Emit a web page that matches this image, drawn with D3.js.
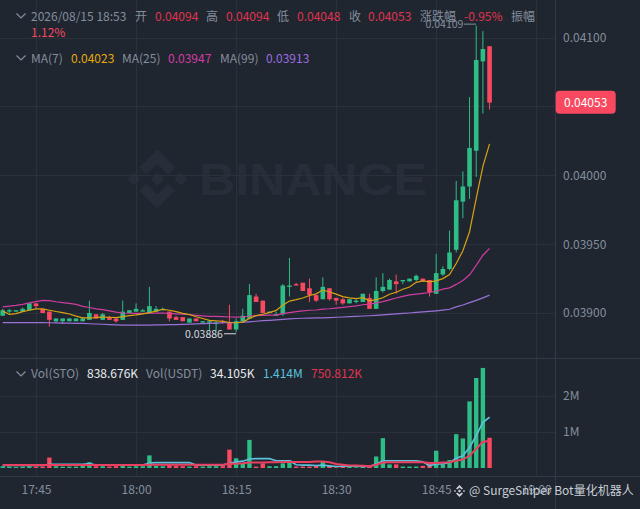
<!DOCTYPE html>
<html><head><meta charset="utf-8">
<script src="https://cdn.jsdelivr.net/npm/d3@7/dist/d3.min.js"></script>
<style>
html,body{margin:0;padding:0;background:#1f2630;overflow:hidden}
svg{display:block}
text{font-family:"Noto Sans CJK SC","Noto Sans",sans-serif}
.domain{display:none}
</style></head><body><svg id="c" width="640" height="509"></svg>
<script>
// prices are in units of 0.00001
const open=[3898,3901,3901,3901,3902,3907,3903,3901,3894,3894,3894,3894,3894,3895,3899,3895,3897,3896,3895,3900,3901,3901,3900,3901,3902,3901,3897,3897,3893,3896,3893,3893,3892,3894,3893,3888,3894,3896,3912,3909,3900,3898,3899,3919,3921,3922,3918,3913,3910,3918,3911,3910,3907,3908,3908,3911,3903,3916,3917,3923,3923,3923,3924,3925,3924,3914,3928,3932,3946,3981,3992,4018,4083,4094];
const high=[3903,3903,3902,3904,3907,3907,3903,3901,3896,3896,3896,3896,3897,3909,3899,3900,3898,3896,3909,3902,3907,3903,3919,3905,3904,3901,3898,3897,3896,3896,3894,3894,3894,3895,3906,3896,3903,3921,3914,3909,3901,3901,3921,3940,3922,3922,3925,3913,3926,3918,3911,3911,3910,3910,3914,3914,3926,3929,3925,3928,3924,3925,3928,3925,3924,3943,3934,3960,3996,4003,4057,4109,4105,4094];
const low=[3898,3900,3901,3901,3902,3903,3900,3890,3893,3892,3894,3894,3894,3895,3896,3895,3895,3893,3895,3900,3901,3901,3900,3901,3902,3894,3895,3894,3893,3894,3893,3887,3887,3892,3888,3886,3893,3896,3908,3900,3900,3898,3898,3912,3920,3916,3908,3908,3910,3909,3906,3906,3907,3907,3908,3903,3903,3915,3917,3914,3921,3923,3923,3923,3912,3914,3927,3931,3944,3969,3983,3999,4045,4048];
const close=[3902,3902,3902,3903,3907,3905,3900,3895,3896,3896,3896,3896,3896,3900,3896,3899,3895,3894,3901,3902,3903,3902,3905,3903,3903,3896,3895,3894,3896,3894,3894,3894,3893,3893,3888,3894,3898,3913,3908,3900,3901,3899,3920,3920,3920,3916,3913,3909,3919,3910,3909,3907,3910,3909,3914,3903,3916,3919,3924,3921,3924,3925,3927,3923,3915,3929,3932,3944,3982,3992,4020,4084,4092,4053];
const ma7=[3901.5,3899,3899.5,3901,3902,3903,3903,3902,3901.1,3900.3,3899.3,3897.7,3896.4,3896.4,3896.6,3897,3896.9,3896.6,3897.3,3898.1,3898.6,3899.4,3900.3,3901.4,3902.7,3902,3901,3899.7,3898.9,3897.3,3896,3894.7,3894.3,3894,3893.1,3892.9,3893.4,3896.1,3898.1,3899.1,3900.3,3901.9,3905.6,3908.7,3909.7,3910.9,3912.7,3913.9,3916.7,3915.3,3913.7,3911.9,3911,3910.4,3911.1,3908.9,3909.7,3911.1,3913.6,3915.1,3917.3,3918.9,3922.3,3923.3,3922.7,3923.4,3925,3927.9,3936,3945.3,3959.1,3983.3,4006.6,4023];
const ma25=[3904.5,3905,3905.5,3906.3,3907.3,3908.3,3909.2,3909,3908.2,3907.6,3907,3906.3,3904.8,3904,3903,3902.4,3901.6,3900.6,3900,3899.8,3899.7,3899.7,3899.8,3899.9,3900,3899.7,3899.4,3899.1,3898.8,3898.3,3897.9,3897.6,3897.6,3897.4,3897.1,3897,3897.1,3897.8,3898.1,3898.3,3898.4,3898.5,3899.6,3900.3,3901,3901.6,3902,3902.2,3902.8,3903.1,3903.6,3904.1,3904.7,3905.2,3906,3906.4,3907.3,3908.3,3909.6,3910.9,3912.1,3913.2,3913.7,3914.3,3914.9,3916,3917.4,3918.3,3920.8,3923.7,3927.8,3934.7,3942,3947];
const ma99=[3893,3893,3893,3893,3893,3893,3893,3892.9,3892.8,3892.7,3892.6,3892.5,3892.4,3892.2,3892,3891.8,3891.6,3891.4,3891.2,3891.2,3891.2,3891.2,3891.2,3891.3,3891.4,3891.5,3891.6,3891.7,3891.9,3892.1,3892.3,3892.5,3892.7,3892.9,3893,3893.1,3893.3,3893.6,3894,3894.4,3894.7,3895,3895.4,3895.7,3896,3896.2,3896.3,3896.4,3896.5,3896.7,3896.9,3897.1,3897.3,3897.5,3897.8,3898,3898.3,3898.6,3899,3899.3,3899.7,3900,3900.4,3900.8,3901.2,3901.6,3902.1,3902.7,3904.5,3905.8,3907.5,3909.2,3911,3913];
// volumes in millions
const volume=[.05,.04,.03,.04,.05,.04,.04,.29,.05,.04,.04,.04,.06,.16,.05,.05,.04,.05,.06,.04,.05,.05,.35,.06,.05,.09,.06,.05,.04,.05,.04,.05,.05,.05,.51,.27,.12,.78,.04,.13,.05,.05,.13,.22,.04,.04,.04,.06,.17,.07,.02,.07,.04,.02,.06,.06,.32,.83,.1,.1,.04,.04,.04,.06,.13,.48,.1,.22,.94,.82,1.85,2.5,2.78,.84];
const volMaA=[.07,.07,.07,.07,.07,.07,.07,.1,.1,.1,.1,.1,.1,.12,.08,.08,.08,.08,.08,.08,.08,.08,.14,.15,.15,.15,.15,.15,.15,.08,.08,.08,.08,.08,.13,.17,.19,.25,.26,.26,.26,.2,.2,.2,.09,.08,.08,.07,.08,.06,.04,.05,.06,.05,.04,.04,.11,.2,.2,.2,.2,.2,.2,.17,.06,.11,.11,.15,.27,.34,.57,.9,1.27,1.41];
const volMaB=[.08,.08,.08,.08,.08,.08,.08,.08,.08,.08,.08,.08,.08,.08,.08,.08,.08,.08,.08,.08,.08,.08,.09,.09,.09,.09,.09,.09,.09,.09,.09,.09,.09,.09,.12,.12,.13,.15,.15,.15,.16,.16,.17,.17,.17,.17,.17,.18,.18,.16,.11,.09,.07,.07,.06,.05,.09,.15,.16,.16,.16,.16,.16,.16,.14,.14,.15,.16,.2,.24,.34,.53,.73,.75];
const priceTicks=[4100,4050,4000,3950,3900];
const priceTickLabels=["0.04100","","0.04000","0.03950","0.03900"];
const volTicks=[2,1];
const volTickLabels=["2M","1M"];
const timeTickIndex=[5,20,35,50,65,80];
const timeTickLabels=["17:45","18:00","18:15","18:30","18:45","19:00"];

const BG="#1f2630",GRID="#2a313b",UP="#2ebd85",DOWN="#f84960",GREY="#848e9c";
const svg=d3.select("#c");
svg.append("rect").attr("width",640).attr("height",509).attr("fill",BG);

const x=d3.scaleLinear().domain([0,75]).range([2.67,502.9]);
const y=d3.scaleLinear().domain([3900,4100]).range([313,38]);
const yv=d3.scaleLinear().domain([0,2]).range([468,396]);
const idx=d3.range(open.length);

// watermark
const wm=svg.append("g").attr("fill","#272e39");
const cx=157.3,cy=179;
const dia=(a,b,r)=>`M${a-r},${b}L${a},${b-r}L${a+r},${b}L${a},${b+r}Z`;
wm.append("path").attr("d",dia(cx,cy,6.5)+dia(cx-23.4,cy,6.5)+dia(cx+23.4,cy,6.5));
const chev=s=>`M${cx},${cy-s*29.6}L${cx+18},${cy-s*11.6}L${cx+11},${cy-s*4.6}L${cx},${cy-s*15.6}L${cx-11},${cy-s*4.6}L${cx-18},${cy-s*11.6}Z`;
wm.append("path").attr("d",chev(1)+chev(-1));
wm.append("text").attr("x",199).attr("y",195).attr("font-size",45).attr("font-weight",700)
  .style("font-family","Liberation Sans").attr("textLength",228).attr("lengthAdjust","spacingAndGlyphs").text("BINANCE");

// grid and frames
const gridG=svg.append("g").attr("stroke",GRID).attr("stroke-width",1).attr("shape-rendering","crispEdges");
gridG.selectAll(".v").data(timeTickIndex).join("line").attr("x1",d=>x(d)).attr("x2",d=>x(d)).attr("y1",0).attr("y2",477);
gridG.selectAll(".h").data(priceTicks).join("line").attr("x1",0).attr("x2",555).attr("y1",d=>y(d)).attr("y2",d=>y(d));
gridG.selectAll(".hv").data(volTicks).join("line").attr("x1",0).attr("x2",555).attr("y1",d=>yv(d)).attr("y2",d=>yv(d));
const frame=svg.append("g").attr("stroke","#333a45").attr("shape-rendering","crispEdges");
frame.append("line").attr("x1",0).attr("x2",640).attr("y1",358.5).attr("y2",358.5);
frame.append("line").attr("x1",0).attr("x2",640).attr("y1",476.5).attr("y2",476.5);
frame.append("line").attr("x1",555.5).attr("x2",555.5).attr("y1",0).attr("y2",509);

// axes
const ya=svg.append("g").attr("transform","translate(555,0)").call(d3.axisRight(y).tickValues(priceTicks).tickSize(0).tickPadding(8).tickFormat((d,i)=>priceTickLabels[i]));
const yb=svg.append("g").attr("transform","translate(555,0)").call(d3.axisRight(yv).tickValues(volTicks).tickSize(0).tickPadding(8).tickFormat((d,i)=>volTickLabels[i]));
const xa=svg.append("g").attr("transform","translate(0,485)").call(d3.axisBottom(x).tickValues(timeTickIndex).tickSize(0).tickPadding(0).tickFormat((d,i)=>timeTickLabels[i]));
[ya,yb,xa].forEach(g=>g.selectAll("text").attr("fill",GREY).attr("font-size",12).style("font-family",'"Noto Sans CJK SC"'));

// candles
const col=i=>close[i]>=open[i]?UP:DOWN;
const cg=svg.append("g");
cg.selectAll(".w").data(idx).join("line").attr("x1",i=>x(i)).attr("x2",i=>x(i)).attr("y1",i=>y(high[i])).attr("y2",i=>y(low[i])).attr("stroke",col).attr("stroke-width",1);
cg.selectAll(".b").data(idx).join("rect").attr("x",i=>x(i)-2.3).attr("width",4.6)
  .attr("y",i=>y(Math.max(open[i],close[i]))).attr("height",i=>Math.max(1,Math.abs(y(open[i])-y(close[i])))).attr("fill",col);

// MA lines
const pl=d3.line().x((d,i)=>x(i)).y(d=>y(d));
[[ma99,"#9a72d6"],[ma25,"#cf3d9f"],[ma7,"#d9a312"]].forEach(([a,c])=>svg.append("path").attr("d",pl(a)).attr("fill","none").attr("stroke",c).attr("stroke-width",1.2));

// volume
svg.append("g").selectAll("rect").data(idx).join("rect").attr("x",i=>x(i)-2.2).attr("width",4.4)
 .attr("y",i=>yv(volume[i])).attr("height",i=>yv(0)-yv(volume[i])).attr("fill",col);
const vl=d3.line().x((d,i)=>x(i)).y(d=>yv(d));
svg.append("path").attr("d",vl(volMaA)).attr("fill","none").attr("stroke","#5cc1dc").attr("stroke-width",1.6);
svg.append("path").attr("d",vl(volMaB)).attr("fill","none").attr("stroke","#ea3f60").attr("stroke-width",2);

// text helper
const T=(tx,ty,s,c,fs=12)=>svg.append("text").attr("x",tx).attr("y",ty).attr("dy",".36em").attr("fill",c).attr("font-size",fs).text(s);
const chevron=(cxx,cyy)=>svg.append("path").attr("d",`M${cxx-4.5},${cyy-2.5}L${cxx},${cyy+2}L${cxx+4.5},${cyy-2.5}`).attr("fill","none").attr("stroke",GREY).attr("stroke-width",1.2);

chevron(21,16);chevron(21,58);chevron(21,374);
const HR="#e0344f";
[[31,"2026/08/15 18:53",GREY],[135,"开",GREY],[155,"0.04094",HR],[206,"高",GREY],[226,"0.04094",HR],[277,"低",GREY],[297,"0.04048",HR],[349,"收",GREY],[368,"0.04053",HR],[420,"涨跌幅",GREY],[464,"-0.95%",HR],[511,"振幅",GREY]].forEach(d=>T(d[0],16.5,d[1],d[2]));
T(31,33,"1.12%",DOWN);
[[31,"MA(7)",GREY],[71,"0.04023","#e5a90f"],[122,"MA(25)",GREY],[168,"0.03947","#d43ca3"],[220,"MA(99)",GREY],[266,"0.03913","#9b6ee0"]].forEach(d=>T(d[0],58.5,d[1],d[2]));
[[31,"Vol(STO)",GREY],[87,"838.676K","#eaecef"],[146,"Vol(USDT)",GREY],[210,"34.105K","#eaecef"],[263,"1.414M","#5cc1dc"],[311,"750.812K",HR]].forEach(d=>T(d[0],374,d[1],d[2]));

// hi/lo labels
T(425.5,24,"0.04109",GREY,10.5);
svg.append("line").attr("x1",464).attr("x2",476).attr("y1",y(4109)-1.5).attr("y2",y(4109)-1.5).attr("stroke",GREY);
T(185,334,"0.03886","#d5d9de",10.5);
svg.append("line").attr("x1",224).attr("x2",236).attr("y1",y(3886)+1.5).attr("y2",y(3886)+1.5).attr("stroke","#d5d9de");

// last price pill
svg.append("rect").attr("x",555.7).attr("y",90.7).attr("width",60).attr("height",23).attr("rx",4).attr("fill",DOWN);
T(564,102.5,"0.04053","#ffffff");

// footer credit
const lg=svg.append("g").attr("fill","#d5d9de");
lg.append("path").attr("d",dia(459.5,491,1.6)+dia(455,491,1.1)+dia(464,491,1.1));
const ch2=s=>`M459.5,${491-s*6}L${459.5+3.4},${491-s*2.6}L${459.5+2.2},${491-s*1.4}L459.5,${491-s*3.6}L${459.5-2.2},${491-s*1.4}L${459.5-3.4},${491-s*2.6}Z`;
lg.append("path").attr("d",ch2(1)+ch2(-1));
T(469,491,"@ SurgeSniper Bot量化机器人","#c9ced5",12);
</script></body></html>
